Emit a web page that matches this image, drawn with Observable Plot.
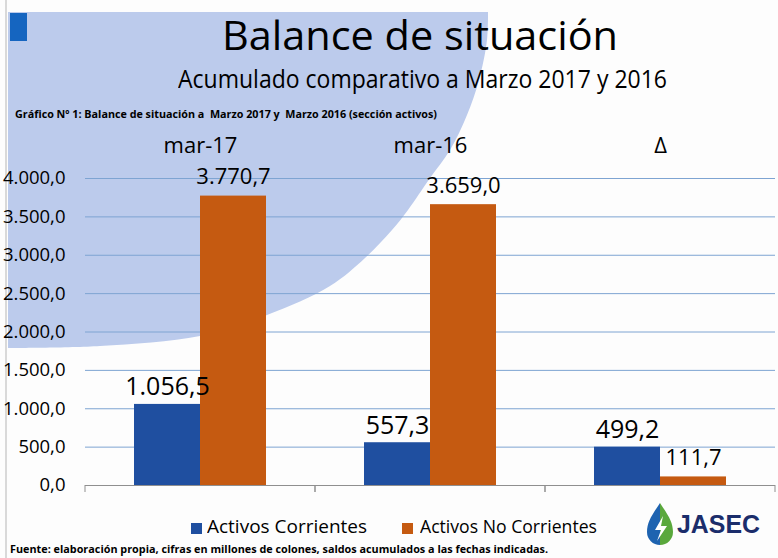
<!DOCTYPE html>
<html><head><meta charset="utf-8">
<script src="https://cdn.jsdelivr.net/npm/d3@7"></script>
<script src="https://cdn.jsdelivr.net/npm/@observablehq/plot@0.6"></script>
<style>
html,body{margin:0;padding:0;background:#fff;}
#page{position:relative;width:778px;height:558px;overflow:hidden;background:#fdfdfd;font-family:"Open Sans",sans-serif;color:#000;}
.t{position:absolute;white-space:pre;line-height:1;transform-origin:left top;}
.sq{position:absolute;width:11px;height:11px;}
</style></head><body>
<div id="page">
  <svg id="bg" width="778" height="558" style="position:absolute;left:0;top:0"></svg>
  <div id="chart" style="position:absolute;left:0;top:0"></div>
  <svg id="logo" width="778" height="558" style="position:absolute;left:0;top:0;pointer-events:none"></svg>
</div>
<script>
// ---- data ----
const categories = ["mar-17", "mar-16", "Δ"];
const series = ["Activos Corrientes", "Activos No Corrientes"];
const corrientes = [1056.5, 557.3, 499.2];
const noCorrientes = [3770.7, 3659.0, 111.7];
const yTicks = [0, 500, 1000, 1500, 2000, 2500, 3000, 3500, 4000];
const colors = ["#1f4fa0", "#c55a11"];

const titleText = "Balance de situación";
const subtitleText = "Acumulado comparativo a Marzo 2017 y 2016";
const captionText = "Gráfico Nº 1: Balance de situación a  Marzo 2017 y  Marzo 2016 (sección activos)";
const footerText = "Fuente: elaboración propia, cifras en millones de colones, saldos acumulados a las fechas indicadas.";

const rows = categories.flatMap((c, i) => [
  {cat: c, series: series[0], value: corrientes[i]},
  {cat: c, series: series[1], value: noCorrientes[i]}
]);

const fmt = d3.formatLocale({decimal: ",", thousands: ".", grouping: [3], currency: ["", ""]}).format(",.1f");

// ---- decorative background (slide) ----
const bg = d3.select("#bg");
const edge = [[488,12],[487,40],[479,80],[467,115],[450,150],[430,178],[408,210],[392,230],[365,258],[330,286],[267,315],[200,336],[100,346],[8,348]];
bg.append("path")
  .attr("d", "M8,12" + d3.line().curve(d3.curveCatmullRom)(edge).replace(/^M/, "L") + "Z")
  .attr("fill", "#bccbec");
bg.append("rect").attr("x", 10).attr("y", 13).attr("width", 17).attr("height", 28).attr("fill", "#1565c0");
bg.append("line").attr("x1", 6).attr("x2", 6).attr("y1", 0).attr("y2", 558).attr("stroke", "#b5b5b5");

// ---- chart ----
const boundaryTicks = (index, scales, values, dimensions) => {
  const {marginLeft, marginRight, width} = dimensions;
  const y0 = scales.y(0);
  const g = d3.create("svg:g").attr("stroke", "#8f8f8f");
  for (const x of [marginLeft, width - marginRight]) {
    g.append("line").attr("x1", x).attr("x2", x).attr("y1", y0).attr("y2", y0 + 7);
  }
  return g.node();
};

const chart = Plot.plot({
  width: 778,
  height: 558,
  marginTop: 178,
  marginBottom: 73,
  marginLeft: 84,
  marginRight: 2,
  style: {fontFamily: '"Open Sans", sans-serif', fontSize: "18.5px", color: "#000", background: "transparent", overflow: "visible"},
  fx: {domain: categories, padding: 0, axis: null},
  x: {domain: series, paddingInner: 0, paddingOuter: 0.73, axis: null},
  y: {domain: [0, 4000], ticks: yTicks, tickFormat: fmt, tickSize: 0, tickPadding: 20, label: null},
  color: {domain: series, range: colors},
  marks: [
    Plot.gridY(yTicks.filter(d => d > 0), {stroke: "#7ea4d2", strokeOpacity: 1}),
    Plot.ruleY([0], {stroke: "#8f8f8f"}),
    boundaryTicks,
    Plot.barY(rows, {fx: "cat", x: "series", y: "value", fill: "series"}),
    Plot.text(rows, {filter: d => d.series === series[0], fx: "cat", x: "series", y: "value", text: d => fmt(d.value), lineAnchor: "bottom", dy: -9, fontSize: 25, fill: "#000"}),
    Plot.text(rows, {filter: d => d.series === series[1], fx: "cat", x: "series", y: "value", text: d => fmt(d.value), lineAnchor: "bottom", dy: -12, fontSize: 22, fill: "#000"}),
    Plot.text(categories, {fx: d => d, text: d => d, frameAnchor: "top", lineAnchor: "bottom", dy: -26, fontSize: 22, fontWeight: 500, fill: "#000"})
  ]
});
document.getElementById("chart").appendChild(chart);

// ---- texts (title, subtitle, caption, legend, footer) ----
const page = document.getElementById("page");
function addText(txt, {left, baseline, size, weight = 400, width, family = '"Open Sans", sans-serif', asc = 0.888, color = "#000"}) {
  const el = document.createElement("div");
  el.className = "t";
  el.textContent = txt;
  Object.assign(el.style, {left: left + "px", top: (baseline - asc * size) + "px", fontSize: size + "px", fontWeight: weight, fontFamily: family, color});
  page.appendChild(el);
  if (width) {
    const w = el.getBoundingClientRect().width;
    el.style.transform = `scaleX(${width / w})`;
  }
  return el;
}
addText(titleText, {left: 222, baseline: 50, size: 41, weight: 500, width: 396});
addText(subtitleText, {left: 178, baseline: 88, size: 25, weight: 500, width: 489});
addText(captionText, {left: 15, baseline: 118, size: 11, weight: 700, width: 422});
addText(footerText, {left: 10, baseline: 553, size: 11, weight: 700, width: 538});

// legend
const legendPos = [{sq: 191, tx: 207, w: 160}, {sq: 402, tx: 420, w: 177}];
series.forEach((s, i) => {
  const sq = document.createElement("div");
  sq.className = "sq";
  Object.assign(sq.style, {left: legendPos[i].sq + "px", top: "523px", background: colors[i]});
  page.appendChild(sq);
  addText(s, {left: legendPos[i].tx, baseline: 534, size: 19, weight: 500, width: legendPos[i].w});
});

// logo
const logo = d3.select("#logo");
logo.append("path").attr("d", "M660,503 C652,515 647,522 647,532 A13,13 0 0,0 660,545 Z").attr("fill", "#1e63b0");
logo.append("path").attr("d", "M660,503 C668,515 673,522 673,532 A13,13 0 0,1 660,545 Z").attr("fill", "#5aa83c");
logo.append("path").attr("d", "M663,516 L655,530 L661,530 L657,541 L667,526 L661,526 Z").attr("fill", "#ffffff");
addText("JASEC", {left: 677, baseline: 533, size: 25, weight: 700, width: 83, family: '"Liberation Sans", Arial, sans-serif', asc: 0.846, color: "#1b2d6b"});
</script>
</body></html>
